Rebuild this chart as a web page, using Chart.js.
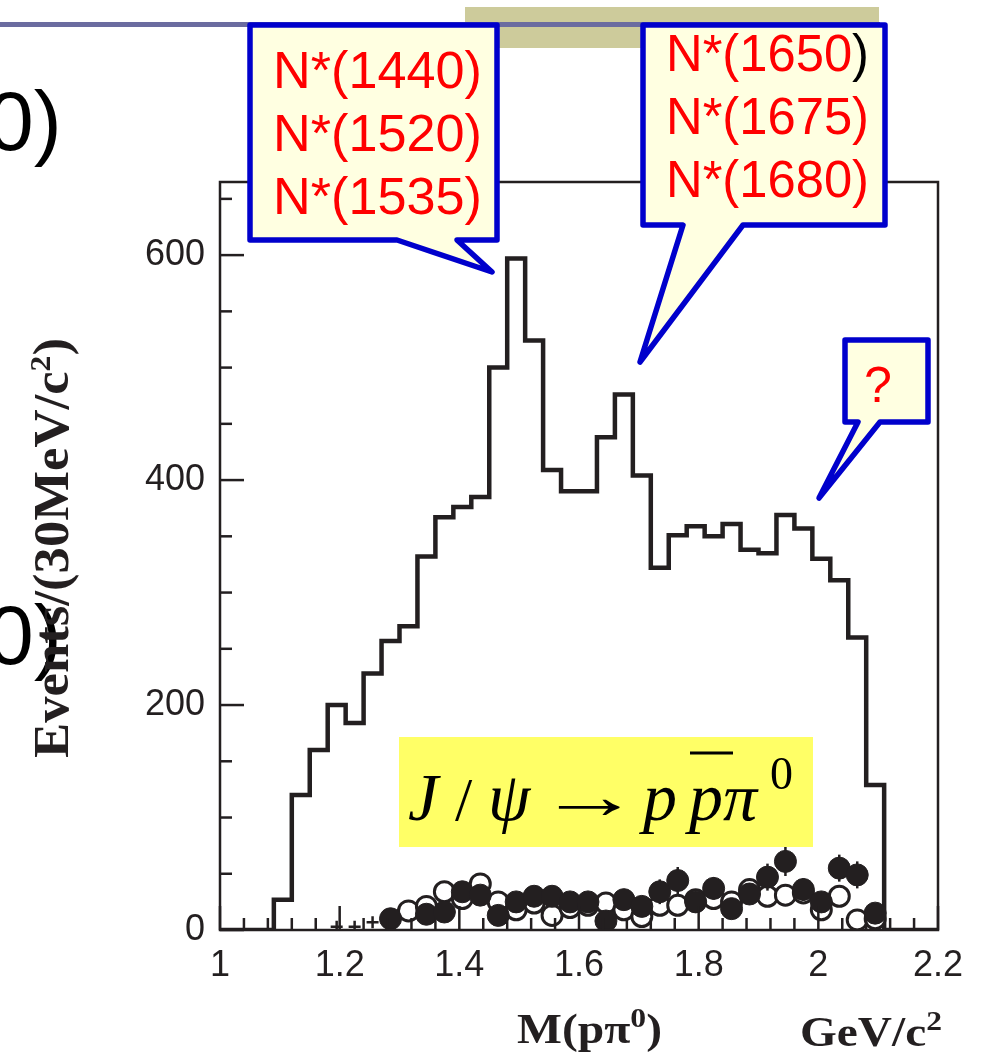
<!DOCTYPE html>
<html>
<head>
<meta charset="utf-8">
<script src="https://cdn.jsdelivr.net/npm/chart.js@4.4.1/dist/chart.umd.min.js"></script>
<style>
  html, body { margin: 0; padding: 0; background: #fff; }
  #wrap { position: relative; width: 985px; height: 1053px; overflow: hidden; }
  #chart, #decor, #overlay { position: absolute; left: 0; top: 0; }
  #overlay { pointer-events: none; }
</style>
</head>
<body>
<div id="wrap">
  <svg id="decor" width="985" height="1053">
    <rect x="465" y="7" width="414" height="41" fill="#CDCB9B"/>
    <rect x="0" y="22" width="880" height="5" fill="#6B6CA0"/>
  </svg>
  <canvas id="chart" width="985" height="1053"></canvas>
  <svg id="overlay" width="985" height="1053" font-family="Liberation Sans, Arial, sans-serif">
    <!-- bits of the slide text cut off on the left -->
    <text x="-13" y="150" font-size="84" fill="#000">0)</text>
    <text x="-13" y="664" font-size="84" fill="#000">0)</text>

    <!-- axis titles -->
    <text transform="translate(68,548) rotate(-90)" text-anchor="middle" font-family="Liberation Serif, Times New Roman, serif"
          font-weight="bold" font-size="50" fill="#231F20" textLength="420" lengthAdjust="spacingAndGlyphs">Events/(30MeV/c<tspan dy="-18" font-size="30">2</tspan><tspan dy="18">)</tspan></text>
    <text x="517" y="1043" font-family="Liberation Serif, Times New Roman, serif" font-weight="bold" font-size="42" fill="#231F20"
          textLength="145" lengthAdjust="spacingAndGlyphs">M(pπ<tspan dy="-16" font-size="28">0</tspan><tspan dy="16">)</tspan></text>
    <text x="800" y="1046" font-family="Liberation Serif, Times New Roman, serif" font-weight="bold" font-size="42" fill="#231F20"
          textLength="142" lengthAdjust="spacingAndGlyphs">GeV/c<tspan dy="-16" font-size="28">2</tspan></text>

    <!-- callout 1 -->
    <polygon points="250,25 497,25 497,240 457,240 492,272 397,240 250,240" fill="#FFFFE1" stroke="#0000CC" stroke-width="5.5" stroke-linejoin="round"/>
    <text x="273" y="88" font-size="52" fill="#FF0000" textLength="209" lengthAdjust="spacingAndGlyphs">N*(1440)</text>
    <text x="273" y="151" font-size="52" fill="#FF0000" textLength="209" lengthAdjust="spacingAndGlyphs">N*(1520)</text>
    <text x="273" y="214" font-size="52" fill="#FF0000" textLength="209" lengthAdjust="spacingAndGlyphs">N*(1535)</text>

    <!-- callout 2 -->
    <polygon points="643,25 885,25 885,225 743,225 640,362 683,225 643,225" fill="#FFFFE1" stroke="#0000CC" stroke-width="5.5" stroke-linejoin="round"/>
    <text x="666" y="71" font-size="52" fill="#FF0000" textLength="203" lengthAdjust="spacingAndGlyphs">N*(1650<tspan fill="#000">)</tspan></text>
    <text x="666" y="134" font-size="52" fill="#FF0000" textLength="203" lengthAdjust="spacingAndGlyphs">N*(1675)</text>
    <text x="666" y="197" font-size="52" fill="#FF0000" textLength="203" lengthAdjust="spacingAndGlyphs">N*(1680)</text>

    <!-- callout 3 -->
    <polygon points="845,340 928,340 928,422 880,422 819,498 858,422 845,422" fill="#FFFFE1" stroke="#0000CC" stroke-width="5.5" stroke-linejoin="round"/>
    <text x="878" y="402" text-anchor="middle" font-size="50" fill="#FF0000">?</text>

    <!-- reaction label -->
    <rect x="399" y="737" width="414" height="110" fill="#FFFF66"/>
    <g font-family="Liberation Serif, Times New Roman, serif" font-size="68" fill="#000">
      <text x="408" y="820" font-style="italic">J</text>
      <text x="455" y="820" font-size="62">/</text>
      <text x="488" y="820" font-style="italic">ψ</text>
      <text transform="translate(538,818) scale(1.6,1)" font-size="64">→</text>
      <text x="643" y="820" font-style="italic">p</text>
      <text x="689" y="820" font-style="italic">p</text>
      <text x="723" y="820" font-style="italic">π</text>
      <text x="770" y="789" font-size="46">0</text>
      <line x1="690" y1="753" x2="733" y2="753" stroke="#000" stroke-width="3"/>
    </g>
  </svg>
</div>

<script>
// histogram: events per 30 MeV bin, left edge of each bin
const binLeftEdges = [1.09, 1.12, 1.15, 1.18, 1.21, 1.24, 1.27, 1.30, 1.33, 1.36,
                      1.39, 1.42, 1.45, 1.48, 1.51, 1.54, 1.57, 1.60, 1.63, 1.66,
                      1.69, 1.72, 1.75, 1.78, 1.81, 1.84, 1.87, 1.90, 1.93, 1.96,
                      1.99, 2.02, 2.05, 2.08];
const histCounts = [27, 120, 160, 200, 184, 228, 257, 270, 332, 367,
                    376, 385, 500, 597, 524, 409, 390, 390, 438, 476,
                    404, 322, 351, 359, 350, 361, 338, 335, 369, 357,
                    330, 311, 260, 129];
const histStart = 1.0;
const histEnd = 2.11;

// filled points (with error bars)
const filledMass = [1.285, 1.345, 1.375, 1.405, 1.435, 1.465, 1.495, 1.525, 1.555, 1.585,
                    1.615, 1.645, 1.675, 1.705, 1.735, 1.765, 1.795, 1.825, 1.855, 1.885,
                    1.915, 1.945, 1.975, 2.005, 2.035, 2.065, 2.095];
const filledCounts = [10, 14, 16, 34, 31, 13, 25, 30, 30, 25,
                      25, 8, 27, 21, 34, 44, 25, 37, 19, 32,
                      47, 61, 36, 25, 55, 49, 15];
const filledErr = [6, 7, 7, 9, 9, 7, 8, 9, 9, 8,
                   8, 6, 9, 8, 11, 12, 8, 10, 8, 9,
                   12, 13, 10, 8, 12, 12, 7];

// open points
const openMass = [1.315, 1.345, 1.375, 1.405, 1.435, 1.465, 1.495, 1.525, 1.555, 1.585,
                  1.615, 1.645, 1.675, 1.705, 1.735, 1.765, 1.795, 1.825, 1.855, 1.885,
                  1.915, 1.945, 1.975, 2.005, 2.035, 2.065, 2.095];
const openCounts = [17, 21, 34, 28, 41, 25, 18, 24, 13, 20,
                    22, 24, 18, 12, 22, 22, 27, 28, 25, 36,
                    30, 31, 33, 18, 30, 9, 10];

// tiny entries at low mass
const crossMass = [1.195, 1.225, 1.255];
const crossCounts = [3, 3, 7];

// axes
const xTickValues = [1, 1.2, 1.4, 1.6, 1.8, 2, 2.2];
const xTickLabels = ['1', '1.2', '1.4', '1.6', '1.8', '2', '2.2'];
const yTickValues = [0, 200, 400, 600];
const yTickLabels = ['0', '200', '400', '600'];

const ink = '#231F20';

document.addEventListener('DOMContentLoaded', function() {
    // histogram outline, each point holds its value until the next edge
    const histPoints = [{ x: histStart, y: 0 }];
    binLeftEdges.forEach((edge, i) => histPoints.push({ x: edge, y: histCounts[i] }));
    histPoints.push({ x: histEnd, y: 0 });
    histPoints.push({ x: 2.2, y: 0 });

    const filledPoints = filledMass.map((m, i) => ({ x: m, y: filledCounts[i] }));
    const openPoints = openMass.map((m, i) => ({ x: m, y: openCounts[i] }));
    const crossPoints = crossMass.map((m, i) => ({ x: m, y: crossCounts[i] }));

    // frame + inward ticks + error bars
    const framePlugin = {
        id: 'frame',
        beforeDatasetDraw(chart, args) {
            if (args.index !== 1) return;
            const ctx = chart.ctx;
            const xs = chart.scales.x, ys = chart.scales.y;
            ctx.save();
            ctx.strokeStyle = ink;
            ctx.lineWidth = 2.5;
            filledPoints.forEach((p, i) => {
                const px = xs.getPixelForValue(p.x);
                ctx.beginPath();
                ctx.moveTo(px, ys.getPixelForValue(p.y - filledErr[i]));
                ctx.lineTo(px, ys.getPixelForValue(p.y + filledErr[i]));
                ctx.stroke();
            });
            ctx.restore();
        },
        afterDraw(chart) {
            const ctx = chart.ctx;
            const a = chart.chartArea;
            const xs = chart.scales.x, ys = chart.scales.y;
            ctx.save();
            ctx.strokeStyle = ink;
            ctx.lineWidth = 2.5;
            ctx.strokeRect(a.left, a.top, a.right - a.left, a.bottom - a.top);

            // x ticks: major every 0.2, minor every 0.04
            for (let k = 0; k <= 30; k++) {
                const v = 1 + k * 0.04;
                const px = xs.getPixelForValue(v);
                const len = (k % 5 === 0) ? 24 : 12;
                ctx.beginPath();
                ctx.moveTo(px, a.bottom);
                ctx.lineTo(px, a.bottom - len);
                ctx.stroke();
            }
            // y ticks: major every 200, minor every 50
            for (let v = 0; v <= 650; v += 50) {
                const py = ys.getPixelForValue(v);
                const len = (v % 200 === 0) ? 24 : 12;
                ctx.beginPath();
                ctx.moveTo(a.left, py);
                ctx.lineTo(a.left + len, py);
                ctx.stroke();
            }
            ctx.restore();
        }
    };

    new Chart(document.getElementById('chart'), {
        type: 'scatter',
        data: {
            datasets: [
                {
                    type: 'line',
                    label: 'Data',
                    data: histPoints,
                    stepped: 'before',
                    borderColor: ink,
                    borderWidth: 4.5,
                    pointRadius: 0,
                    fill: false,
                    order: 4
                },
                {
                    label: 'Filled',
                    data: filledPoints,
                    pointRadius: 11,
                    pointBackgroundColor: ink,
                    pointBorderColor: ink,
                    pointBorderWidth: 1,
                    order: 1
                },
                {
                    label: 'Open',
                    data: openPoints,
                    pointRadius: 10,
                    pointBackgroundColor: '#ffffff',
                    pointBorderColor: ink,
                    pointBorderWidth: 3,
                    order: 2
                },
                {
                    label: 'Small',
                    data: crossPoints,
                    pointStyle: 'cross',
                    pointRadius: 6,
                    pointBorderColor: ink,
                    pointBorderWidth: 2.5,
                    order: 3
                }
            ]
        },
        options: {
            responsive: false,
            animation: false,
            devicePixelRatio: 1,
            layout: {
                padding: { top: 182, right: 47, left: 0, bottom: 0 }
            },
            plugins: {
                legend: { display: false },
                tooltip: { enabled: false }
            },
            scales: {
                x: {
                    type: 'linear',
                    min: 1,
                    max: 2.2,
                    grid: { display: false, drawTicks: false },
                    border: { display: false },
                    afterBuildTicks: function(scale) {
                        scale.ticks = xTickValues.map(v => ({ value: v }));
                    },
                    afterFit: function(scale) {
                        scale.height = 123;
                    },
                    ticks: {
                        autoSkip: false,
                        maxRotation: 0,
                        padding: 14,
                        color: ink,
                        font: { family: 'Liberation Sans, Arial, sans-serif', size: 36 },
                        callback: function(value) {
                            const i = xTickValues.findIndex(v => Math.abs(v - value) < 1e-6);
                            return i >= 0 ? xTickLabels[i] : '';
                        }
                    }
                },
                y: {
                    min: 0,
                    max: 665,
                    grid: { display: false, drawTicks: false },
                    border: { display: false },
                    afterBuildTicks: function(scale) {
                        scale.ticks = yTickValues.map(v => ({ value: v }));
                    },
                    afterFit: function(scale) {
                        scale.width = 220;
                    },
                    ticks: {
                        autoSkip: false,
                        padding: 15,
                        color: ink,
                        font: { family: 'Liberation Sans, Arial, sans-serif', size: 36 },
                        callback: function(value) {
                            const i = yTickValues.indexOf(value);
                            return i >= 0 ? yTickLabels[i] : '';
                        }
                    }
                }
            }
        },
        plugins: [framePlugin]
    });
});
</script>
</body>
</html>
